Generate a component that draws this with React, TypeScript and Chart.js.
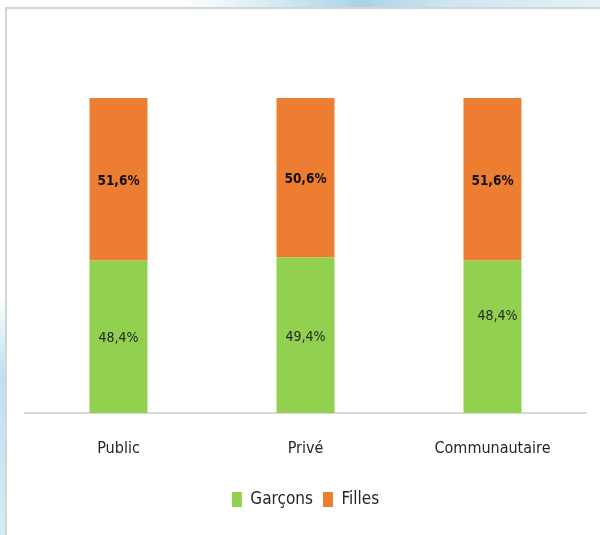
import React, { useEffect, useRef } from "react";
import { Chart, registerables } from "chart.js";

Chart.register(...registerables);

const categories = ["Public", "Privé", "Communautaire"];
const garcons = [48.4, 49.4, 48.4];
const filles = [51.6, 50.6, 51.6];
const seriesNames = ["Garçons", "Filles"];

const FONT = "'DejaVu Sans Condensed', 'Liberation Sans', sans-serif";

const labelPlugin = {
  id: "segLabels",
  afterDatasetsDraw(chart: any) {
    const ctx = chart.ctx;
    ctx.save();
    ctx.textAlign = "center";
    ctx.textBaseline = "middle";
    chart.data.datasets.forEach((ds: any, di: number) => {
      const meta = chart.getDatasetMeta(di);
      meta.data.forEach((bar: any, i: number) => {
        const v = ds.data[i];
        const txt = v.toFixed(1).replace(".", ",") + "%";
        let x = bar.x;
        let y = (bar.y + bar.base) / 2;
        if (di === 0 && i === 2) {
          x += 5;
          y -= 22;
        }
        ctx.font = di === 1 ? "bold 13.5px " + FONT : "14px " + FONT;
        ctx.fillStyle = di === 1 ? "#111111" : "#262626";
        ctx.fillText(txt, x, y + 2);
      });
    });
    ctx.restore();
  },
};

export default function App() {
  const ref = useRef<HTMLCanvasElement | null>(null);
  useEffect(() => {
    if (!ref.current) return;
    const chart = new Chart(ref.current, {
      type: "bar",
      data: {
        labels: categories,
        datasets: [
          {
            label: seriesNames[0],
            data: garcons,
            backgroundColor: "#92D050",
            categoryPercentage: 1,
            barPercentage: 0.31,
          },
          {
            label: seriesNames[1],
            data: filles,
            backgroundColor: "#ED7D31",
            categoryPercentage: 1,
            barPercentage: 0.31,
          },
        ],
      },
      options: {
        responsive: false,
        animation: false,
        layout: { padding: { top: 98, left: 25, right: 14, bottom: 17 } },
        plugins: {
          tooltip: { enabled: false },
          legend: {
            position: "bottom",
            labels: {
              boxWidth: 10,
              boxHeight: 15,
              padding: 10,
              color: "#262626",
              font: { family: FONT, size: 17 },
            },
          },
        },
        scales: {
          x: {
            stacked: true,
            grid: { display: false, drawTicks: false },
            border: { display: true, color: "#d9d9d9", width: 2 },
            ticks: {
              padding: 26,
              color: "#262626",
              font: { family: FONT, size: 16 },
            },
            afterFit: (scale: any) => {
              scale.height = 68;
            },
          },
          y: {
            stacked: true,
            display: false,
            min: 0,
            max: 100,
          },
        },
      },
      plugins: [labelPlugin],
    } as any);
    return () => chart.destroy();
  }, []);

  return (
    <div
      style={{
        position: "fixed",
        left: 0,
        top: 0,
        width: 600,
        height: 535,
        background: "#ffffff",
        overflow: "hidden",
      }}
    >
      <div
        style={{
          position: "absolute",
          left: 0,
          top: 0,
          width: 600,
          height: 8,
          background:
            "linear-gradient(to right, #ffffff 0%, #ffffff 30%, #d6ecf5 45%, #a9d3e8 60%, #cfe6f2 75%, #e3f1f8 100%)",
        }}
      />
      <div
        style={{
          position: "absolute",
          left: 0,
          top: 0,
          width: 6,
          height: 535,
          background:
            "linear-gradient(to bottom, #ffffff 0%, #ffffff 55%, #bfe0ef 70%, #d6ecf5 100%)",
        }}
      />
      <div
        style={{
          position: "absolute",
          left: 5,
          top: 7,
          width: 595,
          height: 528,
          borderLeft: "2px solid #d4d4d4",
          borderTop: "2px solid #d4d4d4",
          background: "#ffffff",
          boxSizing: "border-box",
        }}
      />
      <canvas
        ref={ref}
        width={600}
        height={535}
        style={{ position: "absolute", left: 0, top: 0, width: 600, height: 535 }}
      />
    </div>
  );
}
